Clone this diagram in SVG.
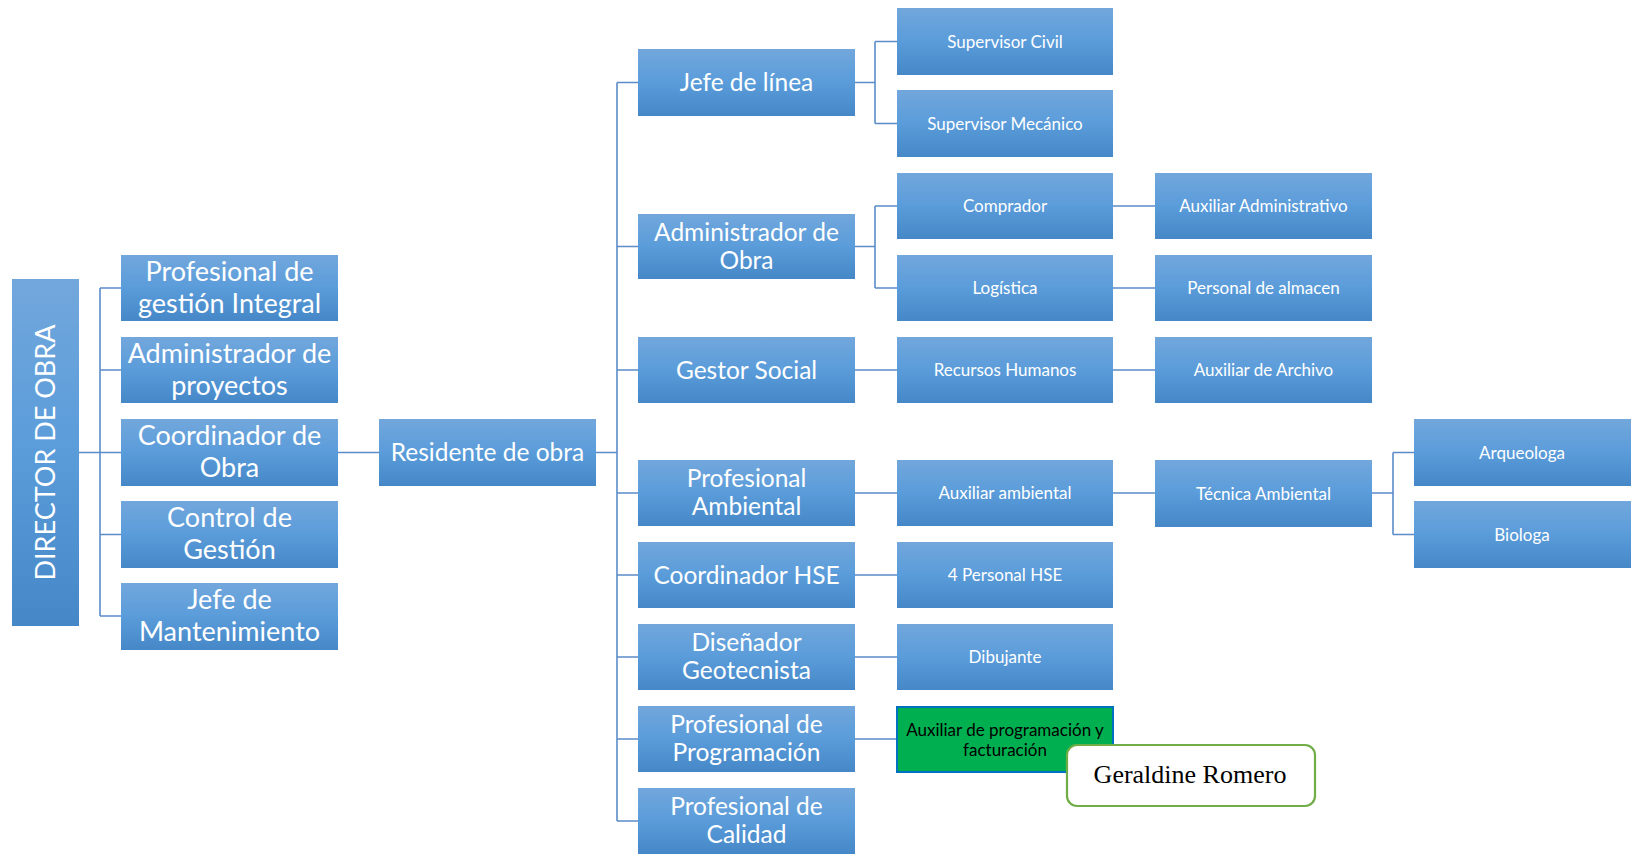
<svg xmlns="http://www.w3.org/2000/svg" width="1631" height="854" viewBox="0 0 1631 854">
<defs>
<linearGradient id="g" x1="0" y1="0" x2="0" y2="1">
<stop offset="0" stop-color="#72A7DC"/>
<stop offset="0.5" stop-color="#5A9CDA"/>
<stop offset="1" stop-color="#4688C7"/>
</linearGradient>
<style>
.b{fill:url(#g);}
.t{font-family:Lato,"Liberation Sans",sans-serif;fill:#fff;text-anchor:middle;}
.xl{font-size:27px;}
.l{font-size:24.5px;}
.s{font-size:17px;}
.c{fill:none;stroke:#5B8CC8;stroke-width:1.6;}
.k{font-family:Lato,"Liberation Sans",sans-serif;font-size:17px;fill:#000;text-anchor:middle;}
</style>
</defs>
<rect width="1631" height="854" fill="#fff"/>
<g id="connectors" class="c">
<path d="M79 452.5H100M100 288V616M100 288H121M100 370H121M100 452.5H121M100 534.5H121M100 616H121"/>
<path d="M338 452.5H379"/>
<path d="M596 452.5H617M617 82.5V821M617 82.5H638M617 246.5H638M617 370H638M617 493H638M617 575H638M617 657H638M617 739H638M617 821H638"/>
<path d="M855 82.5H875M875 41.5V123.5M875 41.5H897M875 123.5H897"/>
<path d="M855 246.5H875M875 206V288M875 206H897M875 288H897"/>
<path d="M1113 206H1155M1113 288H1155"/>
<path d="M855 370H897M1113 370H1155"/>
<path d="M855 493H897M1113 493H1155M1372 493H1393M1393 452.5V534.5M1393 452.5H1414M1393 534.5H1414"/>
<path d="M855 575H897M855 657H897M855 739H897"/>
</g>
<g id="director"><rect class="b" x="12" y="279" width="67" height="347"/><text class="t" font-size="27" transform="translate(54.5 452.5) rotate(-90)">DIRECTOR DE OBRA</text></g>
<g id="prof-gestion"><rect class="b" x="121" y="255" width="217" height="66"/><text class="t xl" x="229.5" y="281">Profesional de</text><text class="t xl" x="229.5" y="313">gestión Integral</text></g>
<g id="admin-proyectos"><rect class="b" x="121" y="337" width="217" height="66"/><text class="t xl" x="229.5" y="363">Administrador de</text><text class="t xl" x="229.5" y="395">proyectos</text></g>
<g id="coord-obra"><rect class="b" x="121" y="419" width="217" height="67"/><text class="t xl" x="229.5" y="445">Coordinador de</text><text class="t xl" x="229.5" y="477">Obra</text></g>
<g id="control-gestion"><rect class="b" x="121" y="501" width="217" height="67"/><text class="t xl" x="229.5" y="527">Control de</text><text class="t xl" x="229.5" y="559">Gestión</text></g>
<g id="jefe-mant"><rect class="b" x="121" y="583" width="217" height="67"/><text class="t xl" x="229.5" y="609">Jefe de</text><text class="t xl" x="229.5" y="641">Mantenimiento</text></g>
<g id="residente"><rect class="b" x="379" y="419" width="217" height="67"/><text class="t l" x="487.5" y="461">Residente de obra</text></g>
<g id="jefe-linea"><rect class="b" x="638" y="49" width="217" height="67"/><text class="t l" x="746.5" y="91">Jefe de línea</text></g>
<g id="admin-obra"><rect class="b" x="638" y="214" width="217" height="65"/><text class="t l" x="746.5" y="240.5">Administrador de</text><text class="t l" x="746.5" y="268.5">Obra</text></g>
<g id="gestor-social"><rect class="b" x="638" y="337" width="217" height="66"/><text class="t l" x="746.5" y="378.5">Gestor Social</text></g>
<g id="prof-ambiental"><rect class="b" x="638" y="460" width="217" height="66"/><text class="t l" x="746.5" y="487">Profesional</text><text class="t l" x="746.5" y="515">Ambiental</text></g>
<g id="coord-hse"><rect class="b" x="638" y="542" width="217" height="66"/><text class="t l" x="746.5" y="583.5">Coordinador HSE</text></g>
<g id="disenador"><rect class="b" x="638" y="624" width="217" height="66"/><text class="t l" x="746.5" y="651">Diseñador</text><text class="t l" x="746.5" y="679">Geotecnista</text></g>
<g id="prof-programacion"><rect class="b" x="638" y="706" width="217" height="66"/><text class="t l" x="746.5" y="733">Profesional de</text><text class="t l" x="746.5" y="761">Programación</text></g>
<g id="prof-calidad"><rect class="b" x="638" y="788" width="217" height="66"/><text class="t l" x="746.5" y="815">Profesional de</text><text class="t l" x="746.5" y="843">Calidad</text></g>
<g id="sup-civil"><rect class="b" x="897" y="8" width="216" height="67"/><text class="t s" x="1005" y="47.5">Supervisor Civil</text></g>
<g id="sup-mecanico"><rect class="b" x="897" y="90" width="216" height="67"/><text class="t s" x="1005" y="129.5">Supervisor Mecánico</text></g>
<g id="comprador"><rect class="b" x="897" y="173" width="216" height="66"/><text class="t s" x="1005" y="212">Comprador</text></g>
<g id="logistica"><rect class="b" x="897" y="255" width="216" height="66"/><text class="t s" x="1005" y="294">Logística</text></g>
<g id="rrhh"><rect class="b" x="897" y="337" width="216" height="66"/><text class="t s" x="1005" y="376">Recursos Humanos</text></g>
<g id="aux-ambiental"><rect class="b" x="897" y="460" width="216" height="66"/><text class="t s" x="1005" y="499">Auxiliar ambiental</text></g>
<g id="personal-hse"><rect class="b" x="897" y="542" width="216" height="66"/><text class="t s" x="1005" y="581">4 Personal HSE</text></g>
<g id="dibujante"><rect class="b" x="897" y="624" width="216" height="66"/><text class="t s" x="1005" y="663">Dibujante</text></g>
<g id="aux-programacion"><rect x="897" y="707" width="216" height="65" fill="#00B050" stroke="#0070C0" stroke-width="2"/><text class="k" x="1005" y="735.5">Auxiliar de programación y</text><text class="k" x="1005" y="755.5">facturación</text></g>
<g id="aux-admin"><rect class="b" x="1155" y="173" width="217" height="66"/><text class="t s" x="1263.5" y="212">Auxiliar Administrativo</text></g>
<g id="personal-almacen"><rect class="b" x="1155" y="255" width="217" height="66"/><text class="t s" x="1263.5" y="294">Personal de almacen</text></g>
<g id="aux-archivo"><rect class="b" x="1155" y="337" width="217" height="66"/><text class="t s" x="1263.5" y="376">Auxiliar de Archivo</text></g>
<g id="tecnica-ambiental"><rect class="b" x="1155" y="460" width="217" height="67"/><text class="t s" x="1263.5" y="499.5">Técnica Ambiental</text></g>
<g id="arqueologa"><rect class="b" x="1414" y="419" width="217" height="67"/><text class="t s" x="1522" y="458.5">Arqueologa</text></g>
<g id="biologa"><rect class="b" x="1414" y="501" width="217" height="67"/><text class="t s" x="1522" y="540.5">Biologa</text></g>
<g id="geraldine"><rect x="1067" y="745" width="248" height="61" rx="10" fill="#fff" stroke="#70AD47" stroke-width="2.2"/><text font-family="'Liberation Serif',serif" font-size="26" fill="#000" text-anchor="middle" x="1190" y="783">Geraldine Romero</text></g>
</svg>
